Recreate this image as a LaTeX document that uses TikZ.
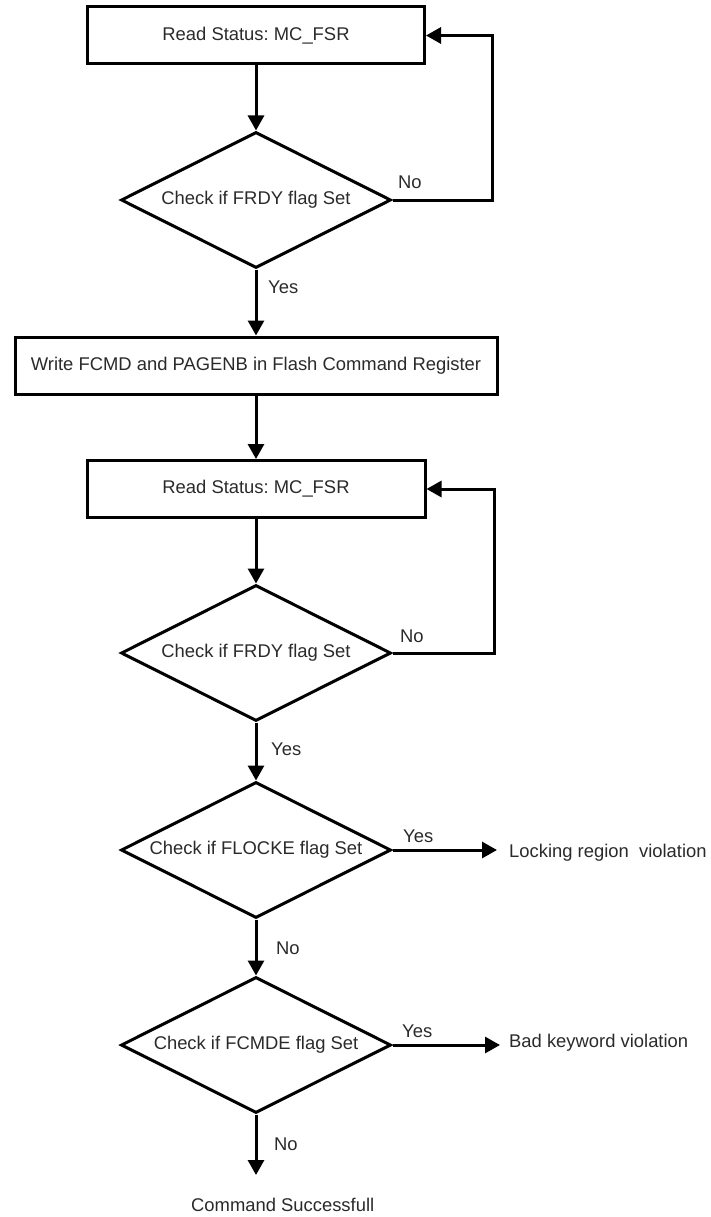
\documentclass[tikz,border=0pt]{standalone}
\usepackage{fontspec}
\setmainfont{Liberation Sans}
\usetikzlibrary{shapes.geometric,arrows.meta}
\definecolor{txt}{HTML}{2A2A2A}
\frenchspacing
\begin{document}
\begin{tikzpicture}[x=1pt,y=-1pt,
  every node/.style={font=\fontsize{18.4}{21}\selectfont, text=txt},
  procbox/.style={draw=black, line width=3pt, rectangle, minimum height=57pt, inner sep=0pt},
  decision/.style={draw=black, line width=3pt, diamond, aspect=2, minimum width=270pt, minimum height=136pt, inner sep=0pt},
  arr/.style={draw=black, line width=3pt, -{Triangle[length=15pt,width=16pt]}},
  lbl/.style={inner sep=0pt, anchor=base west}]
\useasboundingbox (0,0) rectangle (711,1217);

% main flow
\node[procbox, minimum width=337pt] (b1) at (256,35.5) {Read Status: MC\_FSR};
\node[decision] (d1) at (256,200) {Check if FRDY flag Set};
\node[procbox, minimum width=482pt] (b2) at (256,365.5) {Write FCMD and PAGENB in Flash Command Register};
\node[procbox, minimum width=338pt] (b3) at (256,489) {Read Status: MC\_FSR};
\node[decision] (d2) at (256,653) {Check if FRDY flag Set};
\node[decision] (d3) at (256,850) {Check if FLOCKE flag Set};
\node[decision] (d4) at (256,1045) {Check if FCMDE flag Set};

% outcomes
\node[lbl] (lock) at (509,857) {Locking region\ \ violation};
\node[lbl] (bad) at (509,1047) {Bad keyword violation};
\node[lbl] (succ) at (191,1211) {Command Successfull};
\coordinate (endp) at (256,1175);

% branch labels
\node[lbl] (n1) at (398,189) {No};
\node[lbl] (y1) at (268,293) {Yes};
\node[lbl] (n2) at (400,642) {No};
\node[lbl] (y2) at (271,755) {Yes};
\node[lbl] (y3) at (403,842) {Yes};
\node[lbl] (n3) at (276,954) {No};
\node[lbl] (y4) at (402,1037) {Yes};
\node[lbl] (n4) at (274,1150) {No};

% connectors
\draw[arr] (b1) -- (d1);
\draw[arr] (d1.east) -- ++(100,0) |- (b1.east);
\draw[arr] (d1) -- (b2);
\draw[arr] (b2) -- (b3);
\draw[arr] (b3) -- (d2);
\draw[arr] (d2.east) -- ++(102,0) |- (b3.east);
\draw[arr] (d2) -- (d3);
\draw[arr, shorten >=12pt] (d3.east) -- (d3.east -| lock.west);
\draw[arr] (d3) -- (d4);
\draw[arr, shorten >=9pt] (d4.east) -- (d4.east -| bad.west);
\draw[arr] (d4.south) -- (endp);
\end{tikzpicture}
\end{document}
